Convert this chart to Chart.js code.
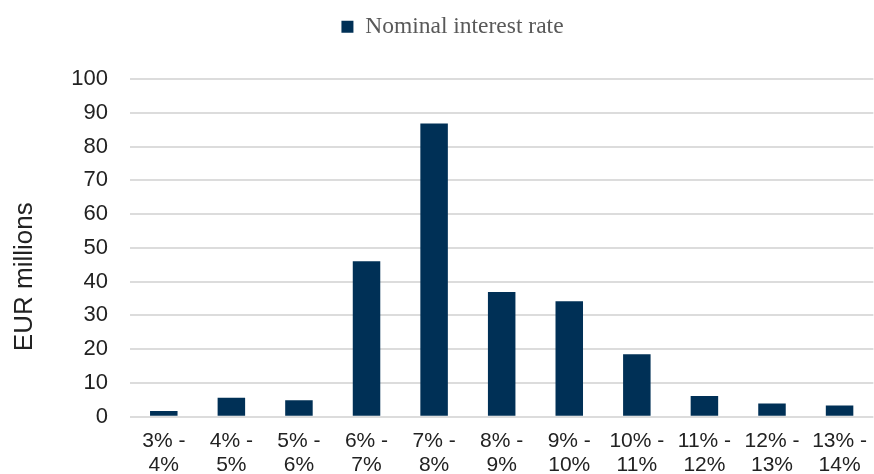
<!DOCTYPE html>
<html>
<head>
<meta charset="utf-8">
<script src="https://cdn.jsdelivr.net/npm/chart.js@4/dist/chart.umd.min.js"></script>
<style>
    html, body { margin: 0; padding: 0; background: #fff; overflow: hidden; }
    #wrap { width: 874px; height: 474px; overflow: hidden; position: relative; }
    #rate-chart { position: absolute; left: 0; top: 0; }
</style>
</head>
<body>
<div id="wrap"><canvas id="rate-chart" width="879" height="474"></canvas></div>
<script>
// interest rate buckets and amounts (EUR millions)
const rateBuckets = [
    ['3% -', '4%'], ['4% -', '5%'], ['5% -', '6%'], ['6% -', '7%'],
    ['7% -', '8%'], ['8% -', '9%'], ['9% -', '10%'], ['10% -', '11%'],
    ['11% -', '12%'], ['12% -', '13%'], ['13% -', '14%']
];
const nominalRate = [1.7, 5.6, 4.9, 46.0, 86.8, 36.9, 34.2, 18.5, 6.1, 3.9, 3.3];
const yTicks = [0, 10, 20, 30, 40, 50, 60, 70, 80, 90, 100];

const navy = '#003056';
const gridGray = '#dcdcdc';
const sans = 'Liberation Sans';

//Extra room under the legend, and nudge it right a little
const legendPlacement = {
    id: 'legendPlacement',
    beforeInit(chart) {
        const originalFit = chart.legend.fit;
        chart.legend.fit = function fit() {
            originalFit.bind(chart.legend)();
            this.height += 30.5;
        };
    },
    afterLayout(chart) {
        chart.legend.left += 13;
        chart.legend.right += 13;
    }
};

var ctx = document.getElementById('rate-chart').getContext('2d');
new Chart(ctx, {
    type: 'bar',
    data: {
        labels: rateBuckets,
        datasets: [{
            label: 'Nominal interest rate',
            data: nominalRate,
            backgroundColor: navy,
            borderWidth: 0,
            categoryPercentage: 1,
            barPercentage: 0.407,
        }]
    },
    options: {
        responsive: false,
        animation: false,
        layout: { padding: { top: 5, left: 0, right: 0, bottom: 0 } },
        plugins: {
            tooltip: { enabled: false },
            legend: {
                position: 'top',
                labels: {
                    boxWidth: 12,
                    boxHeight: 12,
                    padding: 10,
                    color: '#595959',
                    font: { family: 'Liberation Serif', size: 23.5 },
                }
            }
        },
        scales: {
            x: {
                grid: { display: false, drawTicks: false },
                border: { display: false },
                ticks: {
                    color: '#222',
                    padding: 12,
                    maxRotation: 0,
                    autoSkip: false,
                    font: { family: sans, size: 21, lineHeight: 1.17 },
                },
                afterFit: (scale) => { scale.height = 57.3; }
            },
            y: {
                min: 0,
                max: 100,
                afterBuildTicks: (scale) => {
                    scale.ticks = yTicks.map(v => ({ value: v }));
                },
                grid: { color: gridGray, lineWidth: 2, drawTicks: false },
                border: { display: false },
                ticks: {
                    color: '#222',
                    padding: 22,
                    font: { family: sans, size: 22 },
                },
                title: {
                    display: true,
                    // trailing spaces sit the label a little below the axis middle
                    text: 'EUR millions' + ' '.repeat(8),
                    color: '#222',
                    padding: { top: 9.6, bottom: 0 },
                    font: { family: sans, size: 26, lineHeight: 1.2 },
                },
                afterFit: (scale) => { scale.width = 130; }
            }
        }
    },
    plugins: [legendPlacement]
});
</script>
</body>
</html>
